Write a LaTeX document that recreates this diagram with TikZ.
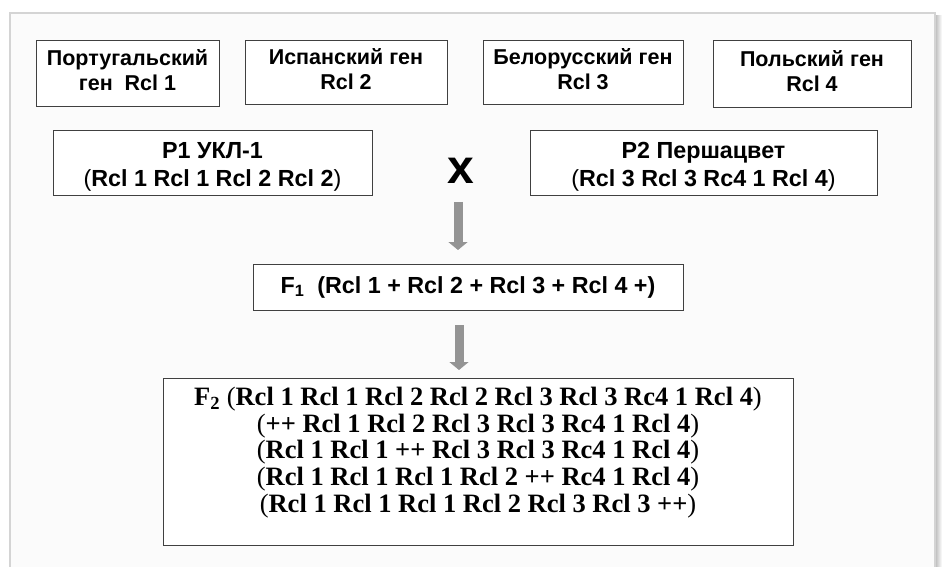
\documentclass[tikz,border=0pt]{standalone}
\usepackage{fontspec}
\setmainfont{Liberation Serif}
\setsansfont{Liberation Sans}
\usetikzlibrary{arrows.meta}
\usetikzlibrary{positioning}

\definecolor{framegray}{HTML}{D4D4D4}
\definecolor{boxgray}{HTML}{404040}
\definecolor{arrowgray}{HTML}{949494}
\definecolor{paper}{HTML}{FBFBFB}

\begin{document}
\begin{tikzpicture}[x=1pt, y=-1pt,
    gene/.style={draw=boxgray, fill=white, line width=0.9pt, align=center, inner sep=0pt,
      text height=40.4pt, text depth=5pt,
      font=\sffamily\bfseries\fontsize{21.5}{25}\selectfont},
    parent/.style={gene, text height=52.6pt, text depth=5pt,
      font=\sffamily\bfseries\fontsize{23.3}{27.5}\selectfont},
    garrow/.style={draw=arrowgray, line width=9pt, -{Triangle[width=19pt, length=8pt]}}]

  \useasboundingbox (0,0) rectangle (943,567);

  % page frame
  \fill[paper] (10,13) rectangle (935,567);
  \shade[left color=gray!55, right color=white] (935,16) rectangle (942,567);
  \draw[framegray, line width=1.2pt] (10,567) |- (935,13) -- (935,567);

  \newcommand{\md}[1]{{\mdseries #1}}

  % genes
  \node[gene, minimum width=183pt, minimum height=66pt] (pt) at (127.5,73)
    {Португальский\\ген\ \ Rcl 1};
  \node[gene, minimum width=202pt, minimum height=64pt] (es) at (346,72)
    {Испанский ген\\Rcl 2};
  \node[gene, minimum width=200pt, minimum height=64pt] (by) at (583,72)
    {Белорусский ген\\Rcl 3};
  \node[gene, minimum width=198pt, minimum height=67pt] (pl) at (812,73.5)
    {Польский ген\\Rcl 4};

  % parents
  \node[parent, minimum width=319pt, minimum height=65pt] (p1) at (212.5,162.5)
    {P1 УКЛ-1\\\md{(}Rcl 1 Rcl 1 Rcl 2 Rcl 2\md{)}};
  \node[parent, minimum width=347pt, minimum height=65pt] (p2) at (703.5,162.5)
    {P2 Першацвет\\\md{(}Rcl 3 Rcl 3 Rc4 1 Rcl 4\md{)}};
  \node[font=\sffamily\bfseries\fontsize{48}{48}\selectfont, inner sep=0pt] (cross) at (461,171) {x};

  % hybrids
  \node[draw=boxgray, fill=white, line width=0.9pt, inner sep=0pt,
    font=\sffamily\bfseries\fontsize{23.3}{26}\selectfont,
    minimum width=430pt, minimum height=46pt] (f1) at (468,287)
    {F\textsubscript{1}\ \ (Rcl 1 + Rcl 2 + Rcl 3 + Rcl 4 +)};
  \node[draw=boxgray, fill=white, line width=0.9pt,
    minimum width=630pt, minimum height=167pt] (f2) at (478,461.5) {};
  \node[align=center, inner sep=0pt, font=\rmfamily\bfseries\fontsize{26.5}{26.8}\selectfont]
    (f2txt) at ([yshift=9pt]f2.center)
    {F\textsubscript{2} \md{(}Rcl 1 Rcl 1 Rcl 2 Rcl 2 Rcl 3 Rcl 3 Rc4 1 Rcl 4\md{)}\\
     \md{(}++ Rcl 1 Rcl 2 Rcl 3 Rcl 3 Rc4 1 Rcl 4\md{)}\\
     \md{(}Rcl 1 Rcl 1 ++ Rcl 3 Rcl 3 Rc4 1 Rcl 4\md{)}\\
     \md{(}Rcl 1 Rcl 1 Rcl 1 Rcl 2 ++ Rc4 1 Rcl 4\md{)}\\
     \md{(}Rcl 1 Rcl 1 Rcl 1 Rcl 2 Rcl 3 Rcl 3 ++\md{)}};

  % crossing arrows
  \coordinate (a1) at (458,202);
  \coordinate (b1) at (458,250);
  \coordinate (a2) at (459,325);
  \coordinate (b2) at (459,370);
  \draw[garrow] (a1) -- (b1);
  \draw[garrow] (a2) -- (b2);

\end{tikzpicture}
\end{document}
